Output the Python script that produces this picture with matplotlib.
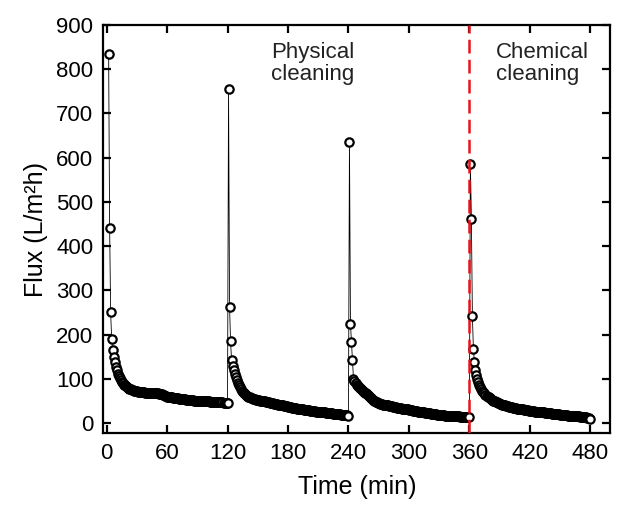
import matplotlib
matplotlib.use("Agg")
import matplotlib.pyplot as plt

plt.rcParams['font.family'] = ['Liberation Sans', 'DejaVu Sans']

# flux readings, one per minute, for the four filtration runs
t1 = list(range(2, 121))
flux1 = [834, 441, 250, 190, 166, 150, 137, 127,
         119, 112, 106, 101, 97, 93, 90, 87, 85, 83,
         81, 79, 78, 77, 76, 75, 74, 73, 73, 72, 72,
         71, 71, 71, 70, 70, 70, 70, 69, 69, 69,
         69, 69, 68, 68, 68, 68, 68, 67, 67, 67,
         67, 66, 66, 65, 65, 64, 63, 62, 61, 60,
         60, 59, 59, 58, 58, 57, 57, 57, 56, 56,
         56, 55, 55, 55, 54, 54, 54, 54, 53, 53,
         53, 53, 52, 52, 52, 52, 51, 51, 51, 51,
         51, 50, 50, 50, 50, 50, 49, 49, 49, 49,
         49, 49, 48, 48, 48, 48, 48, 48, 47, 47,
         47, 47, 47, 47, 47, 46, 46, 46, 46, 46]

t2 = list(range(121, 241))
flux2 = [755, 263, 185, 142, 128, 120, 112, 104, 97, 91,
         86, 81, 77, 73, 70, 67, 65, 63, 61, 60,
         59, 58, 57, 56, 55, 55, 54, 53, 53, 52,
         52, 51, 51, 50, 50, 49, 49, 48, 48, 47,
         47, 46, 46, 45, 45, 44, 44, 43, 43, 42,
         42, 41, 41, 40, 40, 39, 39, 38, 38, 37,
         37, 36, 36, 35, 35, 34, 34, 34, 33, 33,
         32, 32, 32, 31, 31, 30, 30, 30, 29, 29,
         29, 28, 28, 28, 27, 27, 27, 26, 26, 26,
         25, 25, 25, 25, 24, 24, 24, 23, 23, 23,
         23, 22, 22, 22, 21, 21, 21, 21, 20, 20,
         20, 20, 19, 19, 19, 19, 18, 18, 18, 17]

t3 = list(range(241, 361))
flux3 = [634, 224, 184, 142, 100, 95, 91, 87, 84, 81,
         79, 77, 75, 73, 71, 69, 67, 65, 63, 61,
         59, 57, 55, 53, 51, 49, 48, 47, 46, 45,
         44, 43, 43, 42, 42, 41, 41, 40, 40, 39,
         39, 38, 38, 37, 37, 36, 36, 35, 35, 35,
         34, 34, 33, 33, 32, 32, 32, 31, 31, 30,
         30, 29, 29, 28, 28, 28, 27, 27, 26, 26,
         25, 25, 24, 24, 24, 23, 23, 23, 22, 22,
         22, 21, 21, 21, 20, 20, 20, 19, 19, 19,
         19, 18, 18, 18, 18, 17, 17, 17, 17, 16,
         16, 16, 16, 16, 15, 15, 15, 15, 15, 15,
         14, 14, 14, 14, 14, 14, 14, 14, 14, 14]

t4 = list(range(361, 481))
flux4 = [585, 462, 241, 168, 138, 120, 109, 100, 92, 86,
         81, 77, 73, 70, 67, 64, 62, 60, 58, 56,
         54, 53, 51, 50, 49, 48, 47, 46, 45, 44,
         43, 42, 41, 41, 40, 39, 39, 38, 37, 37,
         36, 36, 35, 35, 34, 34, 33, 33, 32, 32,
         31, 31, 31, 30, 30, 29, 29, 29, 28, 28,
         28, 27, 27, 27, 26, 26, 26, 25, 25, 25,
         24, 24, 24, 24, 23, 23, 23, 22, 22, 22,
         22, 21, 21, 21, 21, 20, 20, 20, 20, 19,
         19, 19, 19, 18, 18, 18, 18, 17, 17, 17,
         17, 16, 16, 16, 16, 15, 15, 15, 15, 14,
         14, 14, 14, 13, 13, 13, 12, 12, 11, 10]

time = t1 + t2 + t3 + t4
flux = flux1 + flux2 + flux3 + flux4

chem_time = 360
xticks = [0, 60, 120, 180, 240, 300, 360, 420, 480]
yticks = [0, 100, 200, 300, 400, 500, 600, 700, 800, 900]

fig = plt.figure(figsize=(6.21, 5.05), dpi=100)
ax = fig.add_axes([0.166, 0.142, 0.817, 0.809])

ax.plot(time, flux, color='black', lw=0.6, marker='o', ms=6,
        mfc='white', mec='black', mew=1.6, zorder=3)
ax.axvline(chem_time, color='#e8141c', lw=1.8, ls=(0, (5.5, 2.5)), zorder=4)

ax.text(163, 812, "Physical\ncleaning", fontsize=16, color='#222222',
        ha='left', va='center', linespacing=1.1)
ax.text(386, 812, "Chemical\ncleaning", fontsize=16, color='#222222',
        ha='left', va='center', linespacing=1.1)

ax.set_xlim(-3.5, 500)
ax.set_ylim(-23, 900)
ax.set_xticks(xticks)
ax.set_yticks(yticks)
ax.tick_params(direction='in', length=5.5, width=1.6, labelsize=16,
               top=True, right=True, pad=7)
for s in ax.spines.values():
    s.set_linewidth(1.6)

ax.set_xlabel("Time (min)", fontsize=18, labelpad=8)
ax.set_ylabel("Flux (L/m²h)", fontsize=18, labelpad=6)

fig.savefig("out.png", dpi=100)
